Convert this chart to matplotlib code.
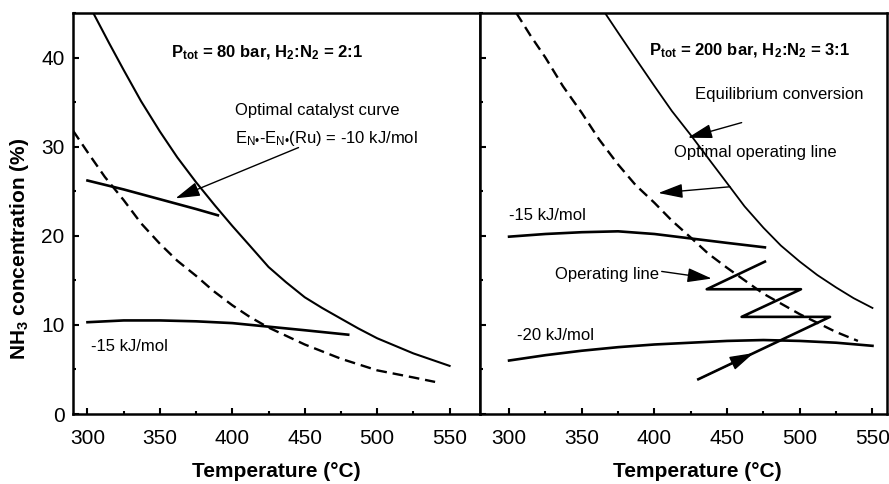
import matplotlib
matplotlib.use('Agg')
import matplotlib.pyplot as plt
from matplotlib.ticker import MultipleLocator
import numpy as np

plt.rcParams['font.family'] = ['Liberation Sans', 'DejaVu Sans']
plt.rcParams['mathtext.fontset'] = 'custom'
plt.rcParams['mathtext.rm'] = 'Liberation Sans'
plt.rcParams['mathtext.bf'] = 'Liberation Sans:bold'
plt.rcParams['mathtext.default'] = 'regular'

# left panel: 80 bar, H2:N2 = 2:1
T_eq_l = [304, 315, 325, 337, 350, 362, 375, 388, 400, 412, 425, 437, 450, 462, 475, 487, 500, 525, 550]
eq_l = [45, 41.6, 38.6, 35.1, 31.7, 28.8, 26.0, 23.4, 21.1, 18.9, 16.5, 14.8, 13.1, 11.9, 10.7, 9.6, 8.5, 6.8, 5.4]
T_opt_l = [290, 300, 312, 325, 337, 350, 362, 375, 387, 400, 412, 425, 450, 475, 500, 525, 540]
opt_l = [31.8, 29.4, 26.6, 24.0, 21.4, 19.1, 17.2, 15.5, 13.8, 12.2, 10.9, 9.7, 7.8, 6.2, 4.9, 4.1, 3.6]
T_10_l = [300, 325, 350, 375, 390]
c10_l = [26.2, 25.2, 24.1, 23.0, 22.3]
T_15_l = [300, 325, 350, 375, 400, 425, 450, 480]
c15_l = [10.3, 10.5, 10.5, 10.4, 10.2, 9.8, 9.4, 8.9]

# right panel: 200 bar, H2:N2 = 3:1
T_eq_r = [366, 375, 387, 400, 412, 425, 437, 450, 462, 475, 487, 500, 512, 525, 537, 550]
eq_r = [45, 42.8, 39.9, 36.8, 34.0, 31.3, 28.7, 25.9, 23.3, 20.9, 18.9, 17.1, 15.6, 14.2, 13.0, 11.9]
T_opt_r = [305, 315, 325, 337, 350, 362, 375, 387, 400, 412, 425, 437, 450, 475, 500, 525, 540]
opt_r = [45, 42.4, 40.0, 36.8, 33.8, 30.8, 28.0, 25.7, 23.7, 21.7, 19.8, 18.0, 16.4, 13.5, 11.2, 9.2, 8.2]
T_15_r = [300, 325, 350, 375, 400, 425, 450, 476]
c15_r = [19.9, 20.2, 20.4, 20.5, 20.2, 19.7, 19.2, 18.7]
T_20_r = [300, 325, 350, 375, 400, 425, 450, 475, 500, 525, 550]
c20_r = [6.0, 6.6, 7.1, 7.5, 7.8, 8.0, 8.2, 8.3, 8.2, 8.0, 7.65]
T_op = [430.2, 520.8, 460.0, 500.8, 436.0, 476.0]
c_op = [3.9, 10.9, 10.9, 14.0, 14.0, 17.1]

fig = plt.figure(figsize=(8.89, 4.84), dpi=100)
axl = fig.add_axes([73 / 889, 70 / 484, 407 / 889, 401 / 484])
axr = fig.add_axes([480 / 889, 70 / 484, 407 / 889, 401 / 484])

dash = (0, (4.5, 2.5))
arrow = dict(arrowstyle='-|>,head_length=0.75,head_width=0.22', color='k',
             lw=1.0, shrinkA=0, shrinkB=0, mutation_scale=20)

for ax in (axl, axr):
    ax.set_ylim(0, 45)
    ax.xaxis.set_major_locator(MultipleLocator(50))
    ax.xaxis.set_minor_locator(MultipleLocator(25))
    ax.yaxis.set_major_locator(MultipleLocator(10))
    ax.yaxis.set_minor_locator(MultipleLocator(5))
    ax.tick_params(which='both', direction='in', top=False, right=False,
                   width=1.5, labelsize=15)
    ax.tick_params(which='major', length=4)
    ax.tick_params(which='minor', length=2.5)
    ax.tick_params(axis='x', pad=11)
    ax.tick_params(axis='y', pad=6)
    for s in ax.spines.values():
        s.set_linewidth(1.8)

# left
axl.set_xlim(290, 571)
axl.plot(T_eq_l, eq_l, color='k', lw=1.5)
axl.plot(T_opt_l, opt_l, color='k', lw=1.7, ls=dash)
axl.plot(T_10_l, c10_l, color='k', lw=1.9)
axl.plot(T_15_l, c15_l, color='k', lw=1.9)
axl.text(358, 40.0, r'P$_{tot}$ = 80 bar, H$_2$:N$_2$ = 2:1', fontsize=12,
         fontweight='bold')
axl.text(402, 33.5, 'Optimal catalyst curve', fontsize=12)
axl.text(402, 30.4, r'E$_{N•}$-E$_{N•}$(Ru) = -10 kJ/mol', fontsize=12)
axl.text(302.5, 7.1, '-15 kJ/mol', fontsize=12)
axl.annotate('', xy=(360.8, 24.2), xytext=(445.7, 29.9), arrowprops=arrow)
axl.set_xlabel('Temperature (°C)', fontsize=15, fontweight='bold')
axl.xaxis.set_label_coords(0.5, -0.12)

# right
axr.set_xlim(280, 560)
axr.tick_params(axis='y', labelleft=False)
axr.plot(T_eq_r, eq_r, color='k', lw=1.3)
axr.plot(T_opt_r, opt_r, color='k', lw=1.7, ls=dash)
axr.plot(T_15_r, c15_r, color='k', lw=1.9)
axr.plot(T_20_r, c20_r, color='k', lw=1.9)
axr.plot(T_op, c_op, color='k', lw=1.9)
t = 0.42
axr.annotate('', xy=(T_op[0] + t * (T_op[1] - T_op[0]), c_op[0] + t * (c_op[1] - c_op[0])),
             xytext=(T_op[0], c_op[0]), arrowprops=arrow)
axr.text(396, 40.2, r'P$_{tot}$ = 200 bar, H$_2$:N$_2$ = 3:1', fontsize=12,
         fontweight='bold')
axr.text(428, 35.4, 'Equilibrium conversion', fontsize=12)
axr.annotate('', xy=(423, 31.0), xytext=(460, 32.7), arrowprops=arrow)
axr.text(413.5, 28.8, 'Optimal operating line', fontsize=12)
axr.annotate('', xy=(402.7, 24.8), xytext=(452, 25.5), arrowprops=arrow)
axr.text(300, 21.8, '-15 kJ/mol', fontsize=12)
axr.text(305.5, 8.3, '-20 kJ/mol', fontsize=12)
axr.text(331.5, 15.2, 'Operating line', fontsize=12)
axr.annotate('', xy=(439.4, 15.2), xytext=(405, 16.0), arrowprops=arrow)
axr.set_xlabel('Temperature (°C)', fontsize=15, fontweight='bold')
axr.xaxis.set_label_coords(0.534, -0.12)

fig.text(20 / 889, 1 - 249 / 484, r'NH$_3$ concentration (%)', fontsize=15,
         fontweight='bold', rotation=90, ha='center', va='center')

fig.savefig('out.png', dpi=100)
